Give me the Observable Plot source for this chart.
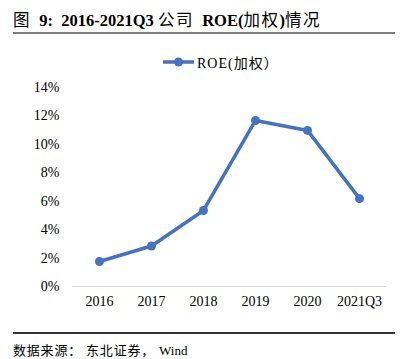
<!DOCTYPE html>
<html><head><meta charset="utf-8">
<script src="https://cdn.jsdelivr.net/npm/d3@7"></script>
<script src="https://cdn.jsdelivr.net/npm/@observablehq/plot@0.6"></script>
<style>
body{margin:0;background:#fff;font-family:"Liberation Serif","Noto Sans CJK SC",serif;}
#wrap{position:relative;width:404px;height:359px;overflow:hidden;}
#title{position:absolute;left:13px;top:7px;font-size:16.5px;font-weight:bold;color:#000;white-space:pre;}
#title .cjk{font-weight:normal;letter-spacing:1.5px;}
#hr1{position:absolute;left:13px;top:32px;width:382px;height:1.5px;background:#7f7f7f;}
#legend{position:absolute;top:52px;left:163px;font-size:14px;color:#000;display:flex;align-items:center;white-space:nowrap;}
#chart{position:absolute;left:0;top:75px;}
#hr2{position:absolute;left:13px;top:332px;width:382px;height:1.5px;background:#333;}
#foot{position:absolute;left:13px;top:340px;font-size:13px;color:#000;white-space:pre;}
#foot .cjk{letter-spacing:0.8px;}
</style></head>
<body><div id="wrap">
<div id="title"><span class="cjk">图</span>  9:  2016-2021Q3 <span class="cjk">公司</span>  ROE(<span class="cjk">加权</span>)<span class="cjk">情况</span></div>
<div id="hr1"></div>
<div id="legend"><svg width="32" height="12"><line x1="0" y1="6" x2="31" y2="6" stroke="#4472C4" stroke-width="3.5"/><circle cx="15.5" cy="6" r="4.5" fill="#4472C4"/></svg><span style="margin-left:2px;letter-spacing:1px">ROE(加权）</span></div>
<div id="chart"></div>
<div id="hr2"></div>
<div id="foot"><span class="cjk">数据来源： 东北证券， </span>Wind</div>
</div>
<script>
const years = ["2016","2017","2018","2019","2020","2021Q3"];
const roe = [1.76, 2.85, 5.35, 11.68, 10.98, 6.18];
const yTicks = [0,2,4,6,8,10,12,14];
const data = years.map((y,i)=>({year:y, value:roe[i]}));
const color = "#4472C4";
const chart = Plot.plot({
  width: 404, height: 250,
  marginLeft: 72, marginRight: 18, marginTop: 12, marginBottom: 39,
  style: {fontFamily: '"Liberation Serif","Noto Sans CJK SC",serif', fontSize: "14px", color: "#000", background: "transparent"},
  x: {type: "point", domain: years, padding: 0.5, label: null, tickSize: 0, tickPadding: 10},
  y: {domain: [0,14], ticks: yTicks, tickFormat: d => d + "%", label: null, tickSize: 0, tickPadding: 13},
  marks: [
    Plot.ruleY([0], {stroke: "#d9d9d9", strokeWidth: 1}),
    Plot.line(data, {x: "year", y: "value", stroke: color, strokeWidth: 3.5}),
    Plot.dot(data, {x: "year", y: "value", fill: color, r: 4.5})
  ]
});
document.getElementById("chart").appendChild(chart);
</script>
</body></html>
